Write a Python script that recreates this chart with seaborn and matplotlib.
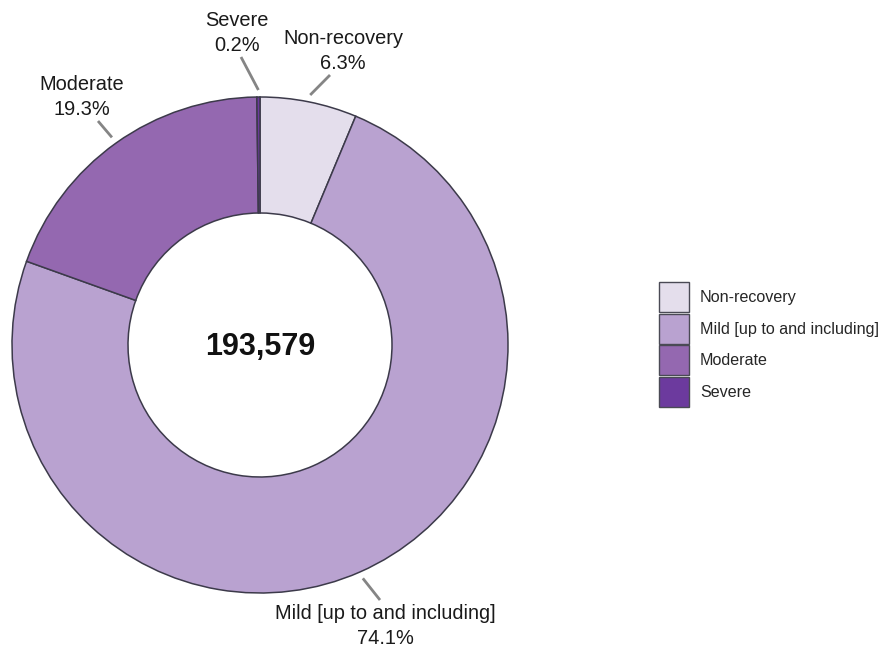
import numpy as np
import matplotlib
matplotlib.use("Agg")
import matplotlib.pyplot as plt
import seaborn as sns
from matplotlib.patches import Patch

# data
categories = ["Non-recovery", "Mild [up to and including]", "Moderate", "Severe"]
percentages = [6.3, 74.1, 19.3, 0.2]
total_label = "193,579"
colors = ["#e4deec", "#b9a2d0", "#9468b0", "#6c3a9e"]

sns.set_style("white")
plt.rcParams["font.family"] = ["Liberation Sans", "DejaVu Sans"]

W, H = 880, 650
fig = plt.figure(figsize=(W / 100, H / 100), dpi=100)
ax = fig.add_axes([0, 0, 1, 1])

# donut geometry in pixel units (y measured from top)
cx, cy = 260, 345
radius = 248
ring = 116


def px(x, y):
    return x, H - y


ax.pie(percentages, colors=colors, startangle=90, counterclock=False,
       radius=radius, center=px(cx, cy),
       wedgeprops=dict(width=ring, edgecolor="#3c3a4a", linewidth=1.1))
ax.set_xlim(0, W)
ax.set_ylim(0, H)
ax.set_aspect("equal")
ax.axis("off")

ax.text(*px(cx, cy + 2), total_label, ha="center", va="center",
        fontsize=22, fontweight="bold", color="#111111")

# outside labels with leader lines
label_pos = [(343, 51), (385, 626), (82, 97), (237, 33)]
line_out = [(330, 75), (380, 600), (98, 121), (241, 57)]

frac = np.array(percentages) / np.sum(percentages)
cum = np.cumsum(frac) - frac / 2
for name, pct, mid, lp, lo in zip(categories, percentages, cum, label_pos, line_out):
    ang = np.deg2rad(90 - mid * 360)
    r_in = radius + 7
    x0 = cx + r_in * np.cos(ang)
    y0 = cy - r_in * np.sin(ang)
    ax.plot([px(x0, y0)[0], px(*lo)[0]], [px(x0, y0)[1], px(*lo)[1]],
            color="#858585", lw=2, solid_capstyle="butt")
    ax.text(*px(*lp), f"{name}\n{pct}%", ha="center", va="center",
            fontsize=14.4, linespacing=1.45, color="#1a1a1a")

handles = [Patch(facecolor=c, edgecolor="#4a4a55", linewidth=1) for c in colors]
fig.legend(handles, categories, loc="upper left",
           bbox_to_anchor=(659 / W, 1 - 282 / H), frameon=False,
           fontsize=11.6, handlelength=1.85, handleheight=2.49,
           handletextpad=0.7, labelspacing=0.1, borderpad=0, borderaxespad=0)

fig.savefig("out.png", dpi=100, facecolor="white")
